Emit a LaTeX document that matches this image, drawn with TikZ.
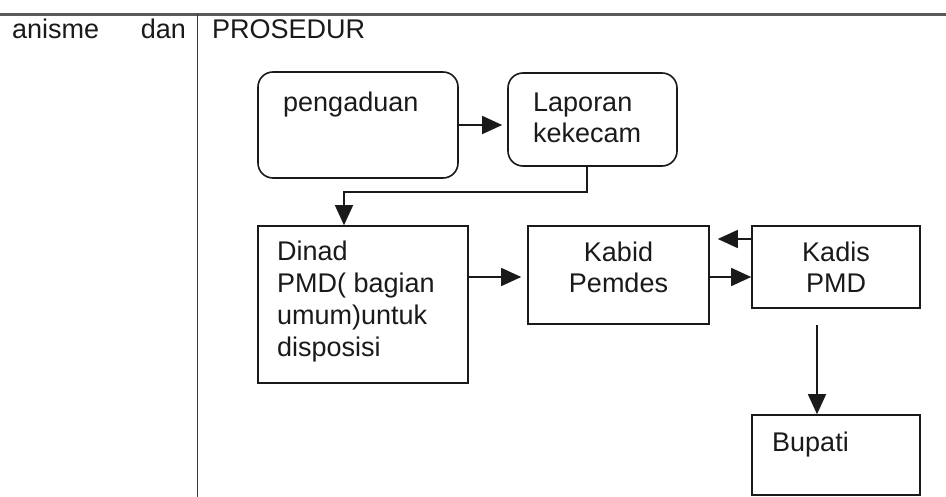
\documentclass[tikz,border=0pt]{standalone}
\usepackage{fontspec}
\setmainfont{Liberation Sans}
\usetikzlibrary{arrows.meta}
\definecolor{ink}{HTML}{1A1A1A}
\begin{document}
\begin{tikzpicture}[x=1pt,y=-1pt,
  boxline/.style={draw=ink, line width=1.6pt, inner sep=0pt},
  rbox/.style={boxline, rounded corners=15pt},
  txt/.style={inner sep=0pt, anchor=base west, text=ink, font=\fontsize{27}{31}\selectfont},
  ctxt/.style={inner sep=0pt, anchor=base, text=ink, font=\fontsize{27}{31}\selectfont},
  arr/.style={draw=ink, line width=1.5pt, -{Triangle[length=20pt,width=18pt]}}]
\useasboundingbox (0,0) rectangle (946,497);
\fill[white] (0,0) rectangle (946,497);
% frame lines
\coordinate (tl) at (0,14.5);
\coordinate (tr) at (946,14.5);
\coordinate (vt) at (197,14.5);
\coordinate (vb) at (197,497);
\draw[gray!70!black, line width=2.2pt] (tl) -- (tr);
\draw[ink!85, line width=1pt] (vt) -- (vb);
\node[txt] (anisme) at (12,39) {anisme};
\node[txt, anchor=base east] (dan) at (186,39) {dan};
\node[txt] (pros) at (212,39) {PROSEDUR};
% boxes
\node[rbox, minimum width=200pt, minimum height=106pt] (peng) at (358,125) {};
\node[rbox, minimum width=169pt, minimum height=93pt] (lap) at (592.5,119.5) {};
\node[boxline, minimum width=210pt, minimum height=157pt] (dinad) at (363,304.5) {};
\node[boxline, minimum width=181pt, minimum height=98pt] (kabid) at (618.5,275) {};
\node[boxline, minimum width=168pt, minimum height=82pt] (kadis) at (836,267) {};
\node[boxline, minimum width=168pt, minimum height=80pt] (bupati) at (836,455) {};
% texts
\node[txt] (tpeng) at (283,112) {pengaduan};
\node[txt] (tlap1) at (533,112) {Laporan};
\node[txt] (tlap2) at (533,143) {kekecam};
\node[txt] (td1) at (277,261) {Dinad};
\node[txt] (td2) at (277,293) {PMD( bagian};
\node[txt] (td3) at (277,324) {umum)untuk};
\node[txt] (td4) at (277,356) {disposisi};
\node[ctxt] (tk1) at (618.5,262) {Kabid};
\node[ctxt] (tk2) at (618.5,293) {Pemdes};
\node[ctxt] (tka1) at (836,262) {Kadis};
\node[ctxt] (tka2) at (836,293) {PMD};
\node[txt] (tb) at (772,451) {Bupati};
% connectors
\draw[arr, shorten >=5pt] (peng.east) -- (peng.east -| lap.west);
\draw[arr] ([xshift=-5.5pt]lap.south) -- ++(0,25) -| ([xshift=-19pt]dinad.north);
\draw[arr, shorten >=6pt] (dinad.east |- 0,277) -- (kabid.west |- 0,277);
\draw[arr, shorten >=8pt] (kadis.west |- 0,239) -- (kabid.east |- 0,239);
\draw[arr] (kabid.east |- 0,277) -- (kadis.west |- 0,277);
\draw[arr, shorten <=16pt] ([xshift=-19pt]kadis.south) -- ([xshift=-19pt]bupati.north);
\end{tikzpicture}
\end{document}
